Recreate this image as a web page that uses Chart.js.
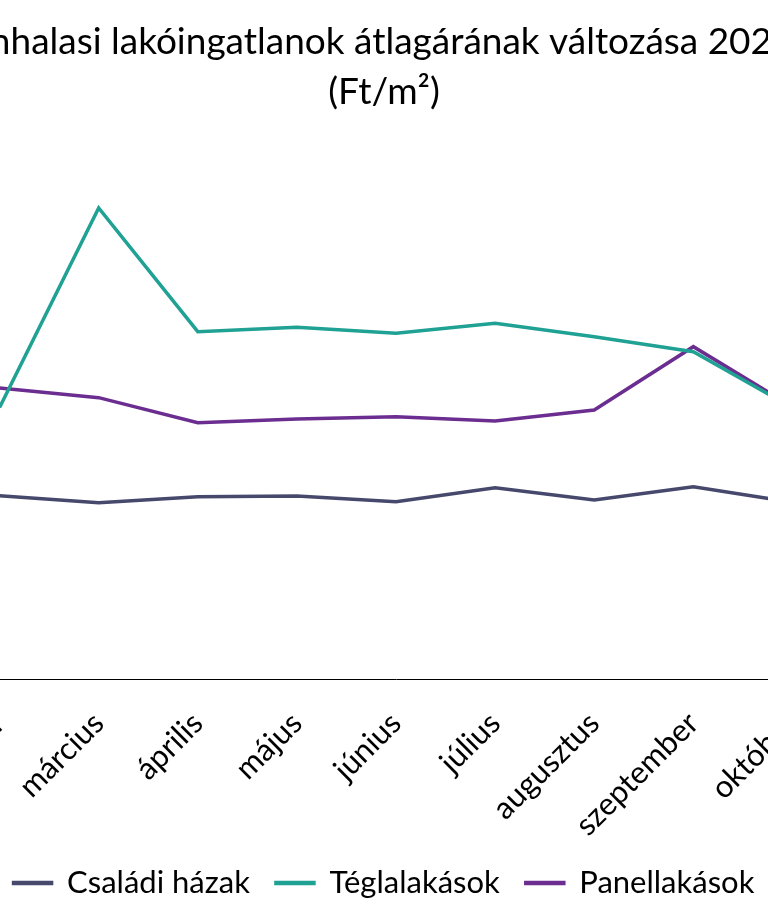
<!DOCTYPE html>
<html lang="hu">
<head>
<meta charset="utf-8">
<title>Lakóingatlanok átlagára</title>
<script src="https://cdn.jsdelivr.net/npm/chart.js@4.4.0/dist/chart.umd.min.js"></script>
<style>
  html, body { margin: 0; padding: 0; width: 768px; height: 922px; overflow: hidden; background: #fff; }
  #arak { position: absolute; left: -114px; top: 0; }
</style>
</head>
<body>
<canvas id="arak" width="996" height="922"></canvas>
<script>
(() => {

/* ---------- DATA (Ft/m2) ---------- */

const honapok = ["február", "március", "április", "május", "június", "július", "augusztus", "szeptember", "október"];

const csaladiHazak = [207000, 199200, 206000, 206800, 200300, 216200, 202300, 217300, 199800];
const teglalakasok = [306700, 532200, 392400, 397400, 390600, 401900, 386800, 369800, 306500];
const panellakasok = [328800, 317900, 289600, 293800, 296400, 291500, 304000, 375500, 307500];

const cim = ["Kiskunhalasi lakóingatlanok átlagárának változása 2023-ban", "(Ft/m²)"];

/* ---------- CHART ---------- */

const betu = "Lato, 'Open Sans', sans-serif";

function sorozat(label, data, color) {
  return {
    label,
    data,
    borderColor: color,
    backgroundColor: color,
    borderWidth: 3.5,
    pointRadius: 0,
    tension: 0,
    fill: false
  };
}

// empty side axes: they only reserve room, so the title is not squeezed
function uresTengely(position, width) {
  return {
    position,
    display: true,
    min: 0,
    max: 600000,
    grid: { display: false },
    border: { display: false },
    ticks: { display: false },
    afterFit(s) {
      s.width = width;
    }
  };
}

new Chart(document.getElementById("arak"), {
  type: "line",
  data: {
    labels: honapok,
    datasets: [
      sorozat("Családi házak", csaladiHazak, "#46496b"),
      sorozat("Téglalakások", teglalakasok, "#1fa193"),
      sorozat("Panellakások", panellakasok, "#6b2d90")
    ]
  },
  options: {
    responsive: false,
    animation: false,
    layout: { padding: { bottom: 13.5 } },
    plugins: {
      tooltip: { enabled: false },
      title: {
        display: true,
        text: cim,
        color: "#000",
        font: { family: betu, size: 37, weight: "normal", lineHeight: 1.351 },
        padding: { top: 17.1, bottom: 30.9 }
      },
      legend: {
        position: "bottom",
        labels: {
          color: "#000",
          boxWidth: 38,
          boxHeight: 1,
          padding: 26,
          font: { family: betu, size: 31 }
        }
      }
    },
    scales: {
      x: {
        offset: true,
        grid: { display: false, drawTicks: false },
        border: { display: true, color: "#000", width: 1 },
        ticks: {
          color: "#000",
          autoSkip: false,
          minRotation: 45,
          maxRotation: 45,
          padding: 26,
          font: { family: betu, size: 31 }
        },
        afterFit(s) {
          s.height = 162.5;
          s.paddingLeft = 0;
          s.paddingRight = 0;
        }
      },
      y: uresTengely("left", 64),
      y2: uresTengely("right", 40)
    }
  }
});
})();
</script>
</body>
</html>
